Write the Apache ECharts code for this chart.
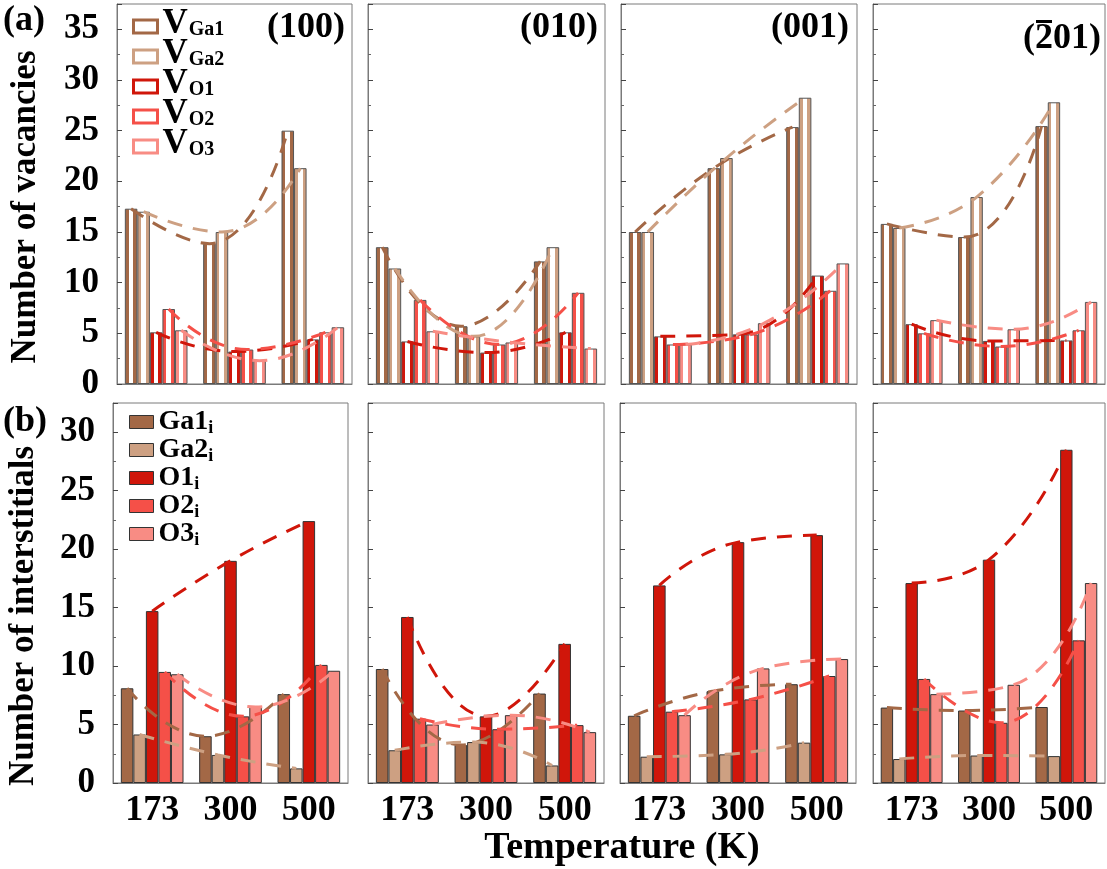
<!DOCTYPE html>
<html>
<head>
<meta charset="utf-8">
<script src="https://cdn.jsdelivr.net/npm/echarts@6/dist/echarts.min.js"></script>
<style>
  html, body { margin: 0; padding: 0; background: #fff; }
  #chart { width: 1107px; height: 869px; }
</style>
</head>
<body>
<div id="chart"></div>
<script>
// Temperatures (categories) and crystal surfaces
const temperatures = ['173', '300', '500'];
const planeLabels = ['(100)', '(010)', '(001)', '(201)'];

// Species keys, legend text parts and colours
const vacancyKeys = ['VGa1', 'VGa2', 'VO1', 'VO2', 'VO3'];
const vacancySubs = ['Ga1', 'Ga2', 'O1', 'O2', 'O3'];
const interstitialKeys = ['Ga1i', 'Ga2i', 'O1i', 'O2i', 'O3i'];
const interstitialMains = ['Ga1', 'Ga2', 'O1', 'O2', 'O3'];
const speciesColors = ['#A36846', '#CDA082', '#D0160A', '#F55048', '#F88C84'];

// Number of vacancies: rows VGa1, VGa2, VO1, VO2, VO3; columns 173 / 300 / 500 K
const vac100 = [[17.3, 13.85, 25.0], [17.0, 15.0, 21.3], [5.1, 3.2, 4.4], [7.4, 3.4, 5.1], [5.3, 2.3, 5.6]];
const vac010 = [[13.5, 5.7, 12.1], [11.4, 4.7, 13.5], [4.2, 3.1, 5.1], [8.3, 3.9, 9.0], [5.2, 4.1, 3.5]];
const vac001 = [[15.0, 21.3, 25.35], [15.0, 22.3, 28.25], [4.7, 4.9, 10.7], [3.9, 4.9, 9.2], [3.9, 6.0, 11.9]];
const vac201 = [[15.8, 14.5, 25.45], [15.4, 18.45, 27.8], [5.9, 4.25, 4.3], [5.0, 3.7, 5.3], [6.3, 5.4, 8.1]];

// Number of interstitials: rows Ga1i, Ga2i, O1i, O2i, O3i; columns 173 / 300 / 500 K
const int100 = [[8.1, 4.0, 7.6], [4.15, 2.4, 1.25], [14.7, 19.0, 22.4], [9.5, 5.7, 10.1], [9.3, 6.5, 9.6]];
const int010 = [[9.75, 3.25, 7.65], [2.8, 3.5, 1.5], [14.2, 5.7, 11.9], [5.5, 4.6, 4.95], [5.0, 5.8, 4.35]];
const int001 = [[5.75, 7.85, 8.45], [2.25, 2.45, 3.45], [16.9, 20.6, 21.2], [6.1, 7.15, 9.15], [5.8, 9.8, 10.6]];
const int201 = [[6.45, 6.2, 6.5], [2.05, 2.35, 2.3], [17.1, 19.1, 28.5], [8.9, 5.15, 12.2], [7.6, 8.4, 17.1]];

const vacancyPanels = [vac100, vac010, vac001, vac201];
const interstitialPanels = [int100, int010, int001, int201];

const FONT = '"Liberation Serif", "Times New Roman", serif';
const CAT_GAP = 0.2;                       // barCategoryGap
const SLOT = (1 - CAT_GAP) / 5;            // width of one bar in category units

// panel frames: [left, width]
const topFrames = [[117, 235], [368, 237], [621, 236], [873, 232]];
const bottomFrames = [[113, 235], [368, 236], [620, 236], [873, 232]];
const TOP_Y = 4, BOTTOM_Y = 403, PANEL_H = 380;

const grids = [], xAxes = [], fitAxes = [], yAxes = [], series = [];

function hollowFill(c) {
  return {
    type: 'linear', x: 0, y: 0, x2: 1, y2: 0,
    colorStops: [
      { offset: 0, color: c }, { offset: 0.3, color: c },
      { offset: 0.3, color: '#ffffff' }, { offset: 0.68, color: '#ffffff' },
      { offset: 0.68, color: c }, { offset: 1, color: c }
    ]
  };
}

function addPanel(frame, top, values, keys, isTop, col) {
  const g = grids.length;
  grids.push({
    left: frame[0], width: frame[1], top: top, height: PANEL_H,
    show: true, borderColor: '#7a7a7a', borderWidth: 1, backgroundColor: 'transparent'
  });
  xAxes.push({
    type: 'category', gridIndex: g, data: temperatures,
    axisTick: { show: false },
    axisLine: { onZero: false, lineStyle: { color: '#7a7a7a', width: 1 } },
    axisLabel: {
      show: !isTop, margin: 10, color: '#000',
      fontFamily: FONT, fontWeight: 'bold', fontSize: 36
    }
  });
  fitAxes.push({
    type: 'value', gridIndex: g, min: -0.5, max: 2.5, show: false
  });
  const ymax = isTop ? 37.5 : 32.5;
  yAxes.push({
    type: 'value', gridIndex: g, min: 0, max: ymax, interval: 5,
    axisLine: { show: true, onZero: false, lineStyle: { color: '#7a7a7a', width: 1 } },
    axisTick: { show: true, inside: true, length: 5, lineStyle: { color: '#444' } },
    minorTick: { show: true, splitNumber: 2, length: 3, lineStyle: { color: '#666' } },
    splitLine: { show: false },
    axisLabel: {
      show: col === 0, margin: 18, color: '#000',
      fontFamily: FONT, fontWeight: 'bold', fontSize: 35,
      formatter: v => (v % 5 === 0 ? String(v) : '')
    }
  });
  values.forEach((vals, s) => {
    const c = speciesColors[s];
    series.push({
      type: 'bar', name: keys[s], xAxisIndex: g, yAxisIndex: g,
      data: vals, barGap: '0%', barCategoryGap: '20%',
      itemStyle: isTop
        ? { color: hollowFill(c), borderColor: '#555', borderWidth: 1 }
        : { color: c, borderColor: '#333', borderWidth: 1 },
      emphasis: { disabled: true }, z: 2
    });
  });
  values.forEach((vals, s) => {
    series.push({
      type: 'line', name: keys[s] + ' trend', xAxisIndex: 8 + g, yAxisIndex: g,
      data: vals.map((v, t) => [t + (s - 2) * SLOT, v]),
      smooth: true, symbol: 'none', silent: true,
      lineStyle: { color: speciesColors[s], width: 3, type: [15, 11] },
      z: 5
    });
  });
}

vacancyPanels.forEach((p, i) => addPanel(topFrames[i], TOP_Y, p, vacancyKeys, true, i));
interstitialPanels.forEach((p, i) => addPanel(bottomFrames[i], BOTTOM_Y, p, interstitialKeys, false, i));

const titleFont = 'bold 38px ' + FONT;
const yTitleFont = 'bold 35px ' + FONT;
const panelFont = 'bold 36px ' + FONT;
const labelRight = [345, 598, 849, 1101];
const graphics = [
  { type: 'text', left: 3, top: 3, style: { text: '(a)', font: panelFont, fill: '#000' } },
  { type: 'text', left: 3, top: 404, style: { text: '(b)', font: panelFont, fill: '#000' } },
  { type: 'text', x: 26, y: 207, rotation: Math.PI / 2,
    style: { text: 'Number of vacancies', font: yTitleFont, fill: '#000', align: 'center', verticalAlign: 'middle' } },
  { type: 'text', x: 24, y: 616, rotation: Math.PI / 2,
    style: { text: 'Number of interstitials', font: yTitleFont, fill: '#000', align: 'center', verticalAlign: 'middle' } },
  { type: 'text', x: 622, y: 848,
    style: { text: 'Temperature (K)', font: titleFont, fill: '#000', align: 'center', verticalAlign: 'middle' } }
];
planeLabels.forEach((txt, i) => {
  graphics.push({
    type: 'text', x: labelRight[i], y: i === 3 ? 39 : 28,
    style: { text: txt, font: panelFont, fill: '#000', align: 'right', verticalAlign: 'middle' }
  });
});
// bar over the "2" of the (-201) surface index
graphics.push({
  type: 'rect', z: 100,
  shape: { x: 1036, y: 20, width: 16, height: 3 },
  style: { fill: '#000' }
});

const legendCommon = {
  orient: 'vertical', itemWidth: 24, itemHeight: 13, selectedMode: false,
  icon: 'rect'
};

const option = {
  animation: false,
  backgroundColor: '#fff',
  grid: grids,
  xAxis: xAxes.concat(fitAxes),
  yAxis: yAxes,
  series: series,
  graphic: graphics,
  legend: [
    Object.assign({}, legendCommon, {
      left: 127, top: 1, itemGap: -11,
      data: vacancyKeys.map((k, i) => ({
        name: k, icon: 'rect',
        itemStyle: { color: '#fff', borderColor: speciesColors[i], borderWidth: 3 }
      })),
      formatter: name => '{m|V}{s|' + vacancySubs[vacancyKeys.indexOf(name)] + '}',
      textStyle: {
        rich: {
          m: { fontFamily: FONT, fontWeight: 'bold', fontSize: 35, lineHeight: 26, padding: [0, 0, 6, 0], color: '#000' },
          s: { fontFamily: FONT, fontWeight: 'bold', fontSize: 20, lineHeight: 20, padding: [6, 0, 0, 1], verticalAlign: 'bottom', color: '#000' }
        }
      }
    }),
    Object.assign({}, legendCommon, {
      left: 124, top: 403, itemGap: -1,
      data: interstitialKeys.map((k, i) => ({
        name: k, icon: 'rect',
        itemStyle: { color: speciesColors[i], borderColor: '#333', borderWidth: 1 }
      })),
      formatter: name => '{m|' + interstitialMains[interstitialKeys.indexOf(name)] + '}{s|i}',
      textStyle: {
        rich: {
          m: { fontFamily: FONT, fontWeight: 'bold', fontSize: 28, lineHeight: 30, color: '#000' },
          s: { fontFamily: FONT, fontWeight: 'bold', fontSize: 18, lineHeight: 18, verticalAlign: 'bottom', color: '#000' }
        }
      }
    })
  ]
};

const chart = echarts.init(document.getElementById('chart'), null, { renderer: 'canvas' });
chart.setOption(option);
</script>
</body>
</html>
